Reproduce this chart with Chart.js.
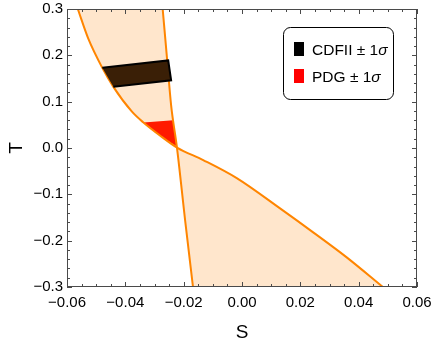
<!DOCTYPE html>
<html>
<head>
<meta charset="utf-8">
<script src="https://cdn.jsdelivr.net/npm/chart.js@4.4.1/dist/chart.umd.min.js"></script>
<style>
  html, body { margin: 0; padding: 0; background: #fff; }
</style>
</head>
<body>
<canvas id="c" width="433" height="352"></canvas>
<script>
// boundary curve, top-left -> crossing -> bottom-right
const curveS = [-0.0563, -0.0527, -0.0479, -0.0441, -0.0378, -0.0338, -0.0275, -0.0223,
                -0.0133, -0.0018, 0.0134, 0.0244, 0.0359, 0.0483];
const curveT = [0.300, 0.236, 0.173, 0.132, 0.079, 0.055, 0.024, 0.001,
                -0.026, -0.065, -0.132, -0.182, -0.236, -0.300];
const CROSS_CURVE = 7;

// steep boundary line, top -> bottom
const lineS = [-0.0272, -0.0258, -0.0243, -0.0223, -0.0195, -0.0168];
const lineT = [0.300, 0.200, 0.092, 0.001, -0.156, -0.300];
const CROSS_LINE = 3;

// CDFII +- 1 sigma band
const cdfS = [-0.0479, -0.0253, -0.0243, -0.0441];
const cdfT = [0.173, 0.189, 0.146, 0.132];

// PDG +- 1 sigma patch
const pdgS = [-0.0338, -0.0236, -0.0225, -0.0275];
const pdgT = [0.055, 0.060, 0.004, 0.024];

const xTicks = [-0.06, -0.04, -0.02, 0.00, 0.02, 0.04, 0.06];
const yTicks = [-0.3, -0.2, -0.1, 0.0, 0.1, 0.2, 0.3];
const legendNames = ['CDFII \u00b1 1', 'PDG \u00b1 1'];

const ORANGE = 'rgb(255,133,0)';
const PEACH = 'rgba(255,128,0,0.2)';
const FONT = "'Liberation Sans', Arial, sans-serif";

const pts = (s, t) => s.map((v, i) => ({ x: v, y: t[i] }));
const curve = pts(curveS, curveT);
const line = pts(lineS, lineT);

// the two shaded wedges, built from the boundaries
const upperWedge = curve.slice(0, CROSS_CURVE + 1).concat(line.slice(0, CROSS_LINE + 1).reverse());
const lowerWedge = line.slice(CROSS_LINE).concat(curve.slice(CROSS_CURVE).reverse());

const fmt = (v, d) => (v < -1e-9 ? '\u2212' : '') + Math.abs(v).toFixed(d);

const frame = {
  id: 'frame',
  afterDatasetsDraw(chart) {
    const { ctx, chartArea: a, scales: { x, y } } = chart;
    ctx.save();
    ctx.strokeStyle = '#4a4a4a';
    ctx.lineWidth = 1;
    ctx.strokeRect(a.left + 0.5, a.top + 0.5, a.width - 1, a.height - 1);
    ctx.beginPath();
    // inward ticks, minor every 0.005 on S and 0.02 on T
    for (let i = 0; i <= 24; i++) {
      const px = Math.round(x.getPixelForValue(-0.06 + i * 0.005)) + 0.5;
      const len = i % 4 === 0 ? 5 : 3;
      ctx.moveTo(px, a.bottom); ctx.lineTo(px, a.bottom - len);
      ctx.moveTo(px, a.top); ctx.lineTo(px, a.top + len);
    }
    for (let i = 0; i <= 30; i++) {
      const py = Math.round(y.getPixelForValue(-0.3 + i * 0.02)) + 0.5;
      const len = i % 5 === 0 ? 5 : 3;
      ctx.moveTo(a.left, py); ctx.lineTo(a.left + len, py);
      ctx.moveTo(a.right, py); ctx.lineTo(a.right - len, py);
    }
    ctx.stroke();

    // legend box
    const bx = 283.5, by = 27.5, bw = 110, bh = 72, r = 7;
    ctx.beginPath();
    ctx.moveTo(bx + r, by);
    ctx.arcTo(bx + bw, by, bx + bw, by + bh, r);
    ctx.arcTo(bx + bw, by + bh, bx, by + bh, r);
    ctx.arcTo(bx, by + bh, bx, by, r);
    ctx.arcTo(bx, by, bx + bw, by, r);
    ctx.closePath();
    ctx.fillStyle = '#fff';
    ctx.fill();
    ctx.strokeStyle = '#000';
    ctx.stroke();

    const swatches = ['#000', '#ff0000'];
    const rows = [55, 82];
    rows.forEach((base, i) => {
      ctx.fillStyle = swatches[i];
      ctx.fillRect(294, base - 13, 10, 14);
      ctx.fillStyle = '#000';
      ctx.textBaseline = 'alphabetic';
      ctx.textAlign = 'left';
      ctx.font = '15.5px ' + FONT;
      ctx.fillText(legendNames[i], 312, base);
      const w = ctx.measureText(legendNames[i]).width;
      ctx.font = 'italic 15.5px ' + FONT;
      ctx.fillText('\u03c3', 312 + w, base);
    });
    ctx.restore();
  }
};

new Chart(document.getElementById('c'), {
  type: 'scatter',
  data: {
    datasets: [
      { data: pts(cdfS, cdfT), showLine: true, fill: 'shape', backgroundColor: '#3a1f06',
        borderColor: '#000', borderWidth: 2, pointRadius: 0, order: 0 },
      { data: curve, showLine: true, fill: false, borderColor: ORANGE, borderWidth: 2,
        cubicInterpolationMode: 'monotone', pointRadius: 0, order: 1 },
      { data: line, showLine: true, fill: false, borderColor: ORANGE, borderWidth: 2,
        cubicInterpolationMode: 'monotone', pointRadius: 0, order: 1 },
      { data: pts(pdgS, pdgT), showLine: true, fill: 'shape', backgroundColor: '#ff1a00',
        borderColor: '#ff1a00', borderWidth: 0, pointRadius: 0, order: 2 },
      { data: upperWedge, showLine: true, fill: 'shape', backgroundColor: PEACH,
        borderWidth: 0, pointRadius: 0, order: 3 },
      { data: lowerWedge, showLine: true, fill: 'shape', backgroundColor: PEACH,
        borderWidth: 0, pointRadius: 0, order: 3 }
    ]
  },
  options: {
    responsive: false,
    animation: false,
    events: [],
    layout: { padding: { top: 9, right: 16, bottom: 0, left: 0 } },
    plugins: { legend: { display: false }, tooltip: { enabled: false } },
    scales: {
      x: {
        type: 'linear', min: -0.06, max: 0.06,
        grid: { display: false, drawTicks: false }, border: { display: false },
        afterBuildTicks: s => { s.ticks = xTicks.map(v => ({ value: v })); },
        afterFit: s => { s.height = 65; s.paddingLeft = 0; s.paddingRight = 0; },
        ticks: { color: '#000', padding: 7, maxRotation: 0, autoSkip: false,
                 font: { family: FONT, size: 15 }, callback: v => fmt(v, 2) },
        title: { display: true, text: 'S', color: '#000', font: { family: FONT, size: 19 },
                 padding: { top: 0, bottom: 8 } }
      },
      y: {
        type: 'linear', min: -0.3, max: 0.3,
        grid: { display: false, drawTicks: false }, border: { display: false },
        afterBuildTicks: s => { s.ticks = yTicks.map(v => ({ value: v })); },
        afterFit: s => { s.width = 67; s.paddingTop = 0; s.paddingBottom = 0; },
        ticks: { color: '#000', padding: 4, autoSkip: false,
                 font: { family: FONT, size: 15 }, callback: v => fmt(v, 1) },
        title: { display: true, text: 'T', color: '#000', font: { family: FONT, size: 19 },
                 padding: { top: 5, bottom: 0 } }
      }
    }
  },
  plugins: [frame]
});
</script>
</body>
</html>
